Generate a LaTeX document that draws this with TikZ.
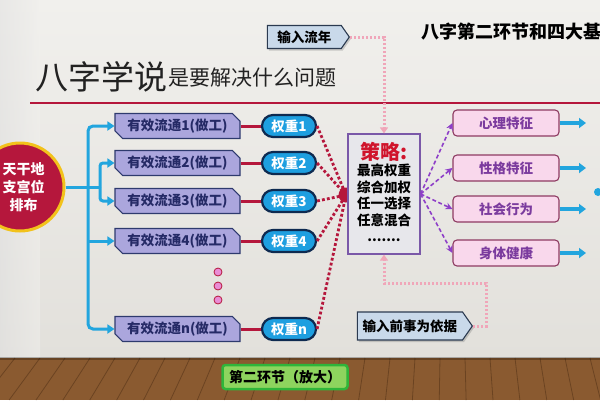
\documentclass[tikz,border=0pt]{standalone}
\usepackage{fontspec}
\setmainfont{Noto Sans CJK SC}
\usetikzlibrary{shapes.misc,shapes.symbols,arrows.meta,shadows}
\definecolor{wallA}{HTML}{F1F0ED}
\definecolor{wallB}{HTML}{E2E0DB}
\definecolor{floorA}{HTML}{8A5A30}
\definecolor{floorB}{HTML}{5E3A1C}
\definecolor{crim}{HTML}{B5173C}
\definecolor{gold}{HTML}{F2C21B}
\definecolor{tblue}{HTML}{22A5DE}
\definecolor{flowfill}{HTML}{ABA6DD}
\definecolor{flowline}{HTML}{2E3A6E}
\definecolor{flowtext}{HTML}{252A66}
\definecolor{wfill}{HTML}{1E9FE0}
\definecolor{wline}{HTML}{0E2A50}
\definecolor{pinkd}{HTML}{F0A6B9}
\definecolor{stratline}{HTML}{7A58A8}
\definecolor{stratfill}{HTML}{E7E7EB}
\definecolor{stratred}{HTML}{D0142C}
\definecolor{rfill}{HTML}{F9D8EC}
\definecolor{rline}{HTML}{8E3B62}
\definecolor{rtext}{HTML}{7B3B9E}
\definecolor{purp}{HTML}{8E3FC8}
\definecolor{sigfill}{HTML}{C9D9EA}
\definecolor{sigline}{HTML}{2B3A50}
\definecolor{gfill}{HTML}{8ED45E}
\definecolor{gline}{HTML}{2FB53A}
\definecolor{dotfill}{HTML}{E98DD6}
\definecolor{titlecol}{HTML}{222222}
\begin{document}
\begin{tikzpicture}[x=1pt,y=-1pt,
  fs/.style={font=\bfseries\fontsize{#1}{#1}\selectfont},
  flowbox/.style={chamfered rectangle, chamfered rectangle corners={north east,south west},
    chamfered rectangle xsep=4pt, fill=flowfill, draw=flowline, line width=1.1pt,
    minimum width=125pt, minimum height=25pt, inner sep=0pt, text=flowtext, fs=13.5},
  wbox/.style={rounded rectangle, fill=wfill, draw=wline, line width=2.2pt,
    minimum width=54pt, minimum height=22pt, inner sep=0pt, text=white, fs=13.5},
  rbox/.style={rectangle, rounded corners=4pt, fill=rfill, draw=rline, line width=1.1pt,
    minimum width=106pt, minimum height=26pt, inner sep=0pt, text=rtext, fs=13.5},
  sig/.style={signal, signal to=east, signal pointer angle=110, fill=sigfill, draw=sigline,
    line width=1.1pt, inner sep=0pt, text=black, fs=13.5,
    drop shadow={opacity=0.35, shadow xshift=1.5pt, shadow yshift=-2pt}},
  blueline/.style={draw=tblue, line width=3pt},
  btip/.style={-{Triangle[length=7pt,width=9pt]}},
  redline/.style={draw=crim, line width=3pt},
  reddot/.style={draw=crim, line width=2.8pt, dash pattern=on 2.8pt off 2.2pt},
  pinkdot/.style={draw=pinkd, line width=3pt, dash pattern=on 2.4pt off 1.6pt},
  purdash/.style={draw=purp, line width=1.6pt, dash pattern=on 4pt off 2.5pt,
    -{Stealth[length=7pt,width=7pt]}},
  outarrow/.style={draw=tblue, line width=3.5pt, -{Triangle[length=7pt,width=10pt]}},
  dotc/.style={circle, fill=dotfill, draw=crim, line width=0.8pt, minimum size=8pt, inner sep=0pt}
]
\useasboundingbox (0,0) rectangle (600,400);
% wall and floor
\shade[top color=wallA, bottom color=wallB] (0,0) rectangle (600,358);
\shade[left color=black!12, right color=wallA, opacity=0.5] (0,0) rectangle (40,358);
\fill[floorA] (0,358) rectangle (600,400);
\foreach \x in {-60,-35,...,700}{
  \draw[floorB, line width=0.8pt, opacity=0.7] (\x,358) -- ({\x+(\x-450)*0.0753},400);
}
\fill[black, opacity=0.25] (0,357) rectangle (600,360);

% title and top right text
\node[anchor=base west, inner sep=0pt, text=titlecol, font=\fontsize{33}{33}\selectfont] (title) at (35,89) {八字学说};
\node[anchor=base west, inner sep=0pt, text=titlecol, font=\fontsize{21}{21}\selectfont] (subtitle) at (168,85) {是要解决什么问题};
\node[anchor=west, inner sep=0pt, text=black, fs=18] (toptext) at (421,32) {八字第二环节和四大基};
\draw[crim, line width=2pt] (30,103) -- (600,103);

% strategy hub dot
\coordinate (hub) at (346,195);
\fill[crim] (hub) circle (7.5);

% left source circle
\node[circle, fill=crim, draw=gold, line width=3pt, minimum size=88pt, inner sep=0pt] (src) at (20,187) {};
\node[inner sep=0pt, text=white, align=center, font=\bfseries\fontsize{14}{18}\selectfont] (srctext) at (23.5,187) {天干地\\支宫位\\排布};

% flow boxes
\node[flowbox] (f1) at (177.5,126) {有效流通1(做工)};
\node[flowbox] (f2) at (177.5,163) {有效流通2(做工)};
\node[flowbox] (f3) at (177.5,201) {有效流通3(做工)};
\node[flowbox] (f4) at (177.5,241) {有效流通4(做工)};
\node[flowbox] (fn) at (177.5,329) {有效流通n(做工)};

% weights
\node[wbox] (w1) at (289,126) {权重1};
\node[wbox] (w2) at (289,163) {权重2};
\node[wbox] (w3) at (289,201) {权重3};
\node[wbox] (w4) at (289,241) {权重4};
\node[wbox] (wn) at (289,329) {权重n};

\foreach \a/\b in {f1/w1,f2/w2,f3/w3,f4/w4,fn/wn}{\draw[redline] (\a.east) -- (\b.west);}
\foreach \b in {w1,w2,w3,w4,wn}{\draw[reddot] (\b.east) -- (hub);}

% dots
\node[dotc] (d1) at (218,272) {};
\node[dotc] (d2) at (218,286) {};
\node[dotc] (d3) at (218,300) {};

% blue tree
\coordinate (t) at (88,187);
\coordinate (s) at (100,187);
\draw[blueline] (src.east) -- (s);
\draw[blueline, btip, rounded corners=5pt] (t) |- (f1.west);
\draw[blueline, btip, rounded corners=5pt] (t) |- (fn.west);
\draw[blueline, btip] (t |- f4.west) -- (f4.west);
\draw[blueline, btip, rounded corners=3pt] (s) |- (f2.west);
\draw[blueline, btip, rounded corners=3pt] (s) |- (f3.west);

% input signals
\node[sig, minimum width=82pt, minimum height=23pt, anchor=east] (in1) at (350,37) {输入流年};
\node[sig, minimum width=115pt, minimum height=28pt, anchor=east] (in2) at (473,326) {输入前事为依据};

% strategy box
\node[rectangle, fill=stratfill, draw=stratline, line width=1.2pt, minimum width=72pt,
  minimum height=120pt, inner sep=0pt] (strat) at (384,194) {};
\node[inner sep=0pt, anchor=north, align=center, text=black,
  font=\bfseries\fontsize{13.5}{16.5}\selectfont] (strattext) at (384,142)
  {{\color{stratred}\fontsize{20}{22}\selectfont 策略:}\\最高权重\\综合加权\\任一选择\\任意混合\\.......};

% pink dotted inputs
\coordinate (c1) at (486,283);
\draw[pinkdot, -{Triangle[length=6pt,width=8pt]}] (in1.east) -| (strat.north);
\draw[pinkdot, -{Triangle[length=6pt,width=8pt]}] (in2.east) -| (c1) -| (strat.south);

% right boxes
\node[rbox] (r1) at (506,123) {心理特征};
\node[rbox] (r2) at (506,168) {性格特征};
\node[rbox] (r3) at (506,209) {社会行为};
\node[rbox] (r4) at (506,253) {身体健康};
\foreach \r in {r1,r2,r3,r4}{\draw[purdash] (strat.east) -- (\r.west);}
\coordinate (e1) at (586,123);
\coordinate (e2) at (586,168);
\coordinate (e3) at (586,209);
\coordinate (e4) at (586,253);
\foreach \r/\e in {r1/e1,r2/e2,r3/e3,r4/e4}{\draw[outarrow] (\r.east) -- (\e);}
\node[circle, fill=tblue, minimum size=8pt, inner sep=0pt] (bdot) at (598,192) {};

% bottom green label
\node[rectangle, rounded corners=3pt, fill=gfill, draw=gline, line width=2.5pt,
  minimum width=125pt, minimum height=24pt, inner sep=0pt, text=black, fs=14] (green) at (285,377) {第二环节（放大）};
\end{tikzpicture}
\end{document}
